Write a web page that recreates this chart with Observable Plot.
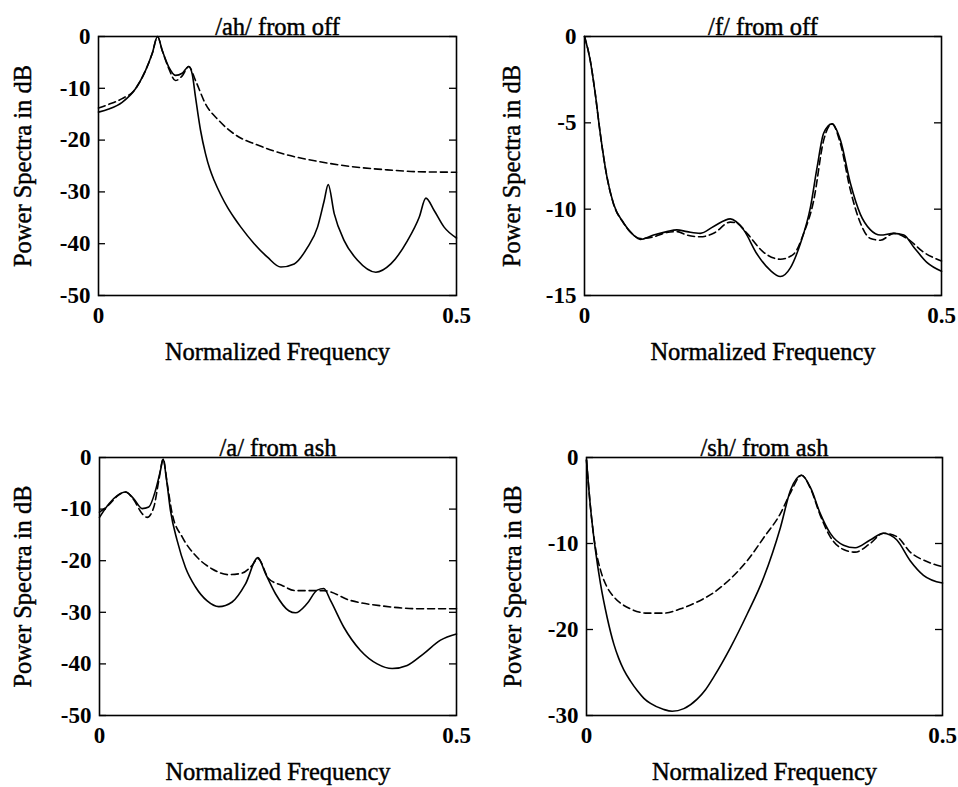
<!DOCTYPE html>
<html>
<head>
<meta charset="utf-8">
<script src="https://cdn.jsdelivr.net/npm/d3@7"></script>
<script src="https://cdn.jsdelivr.net/npm/@observablehq/plot@0.6"></script>
<style>
  html, body { margin: 0; padding: 0; background: #fff; }
  #chart { position: relative; width: 958px; height: 787px; overflow: hidden; background: #fff; }
  #chart > div { position: absolute; }
  #chart svg { overflow: visible; }
</style>
</head>
<body>
<div id="chart"></div>
<script>
// ---------- data (frequency, dB) ----------
const titles = ["/ah/ from off", "/f/ from off", "/a/ from ash", "/sh/ from ash"];
const xLabel = "Normalized Frequency";
const yLabel = "Power Spectra in dB";
const xTicks = [0, 0.5];
const yTicksAh = [0, -10, -20, -30, -40, -50];
const yTicksF = [0, -5, -10, -15];
const yTicksA = [0, -10, -20, -30, -40, -50];
const yTicksSh = [0, -10, -20, -30];

// /ah/ from off
const ahSolid = [
  [0, -14.6], [0.0144, -14.0], [0.033, -12.7], [0.0517, -10.1], [0.0656, -6.6], [0.075, -3.3],
  [0.0825, 0], [0.089, -2.7], [0.0982, -5.9], [0.1075, -7.5], [0.1169, -7.1], [0.1261, -5.8],
  [0.1308, -7.2], [0.1355, -11.7], [0.1425, -18.1], [0.1494, -22.6], [0.1555, -25.6], [0.1616, -27.8],
  [0.1709, -30.6], [0.1802, -33.0], [0.1895, -35.0], [0.1988, -36.8], [0.2174, -40.0], [0.236, -42.6],
  [0.2546, -44.5], [0.2733, -43.9], [0.2919, -40.7], [0.3059, -36.8], [0.3152, -31.7], [0.3208, -28.6],
  [0.3292, -34.2], [0.3431, -39.4], [0.3618, -43.2], [0.3873, -45.5], [0.4083, -43.9], [0.4316, -39.4],
  [0.4479, -34.9], [0.4572, -31.2], [0.4688, -33.6], [0.4827, -36.8], [0.5, -38.9]
];
const ahDashed = [
  [0, -13.8], [0.0144, -13.1], [0.033, -12.0], [0.0517, -10.1], [0.0656, -6.6], [0.075, -3.3],
  [0.0825, 0], [0.089, -2.7], [0.0982, -6.2], [0.1075, -8.5], [0.1169, -7.6], [0.1261, -5.8],
  [0.1355, -8.5], [0.1494, -13.0], [0.168, -16.2], [0.196, -19.4], [0.2174, -20.7],
  [0.2593, -22.7], [0.3059, -24.1], [0.3524, -25.1], [0.399, -25.7], [0.4455, -26.1], [0.5, -26.2]
];

// /f/ from off
const fSolid = [
  [0, 0], [0.0079, -1.35], [0.015, -3.3], [0.022, -5.6], [0.0313, -8.1], [0.0407, -9.7],
  [0.0547, -10.8], [0.0687, -11.5], [0.078, -11.75], [0.0967, -11.5], [0.1154, -11.3], [0.1294, -11.2],
  [0.1435, -11.3], [0.1621, -11.4], [0.1808, -11.0], [0.2042, -10.56], [0.2229, -11.2], [0.2416, -12.6],
  [0.2603, -13.55], [0.2743, -13.9], [0.2883, -13.4], [0.3023, -12.0], [0.3164, -9.9], [0.3257, -7.6],
  [0.335, -5.6], [0.3467, -5.06], [0.3584, -6.0], [0.3724, -8.5], [0.3864, -10.3], [0.4005, -11.2],
  [0.4145, -11.5], [0.4332, -11.4], [0.4472, -11.5], [0.4612, -12.2], [0.4799, -13.1], [0.5, -13.6]
];
const fDashed = [
  [0, 0], [0.0079, -1.35], [0.015, -3.3], [0.022, -5.6], [0.0313, -8.1], [0.0407, -9.7],
  [0.0547, -10.8], [0.0687, -11.5], [0.078, -11.7], [0.0967, -11.6], [0.1154, -11.35], [0.1294, -11.3],
  [0.1435, -11.5], [0.1621, -11.6], [0.1808, -11.4], [0.2042, -10.75], [0.2136, -10.8], [0.2276, -11.4],
  [0.2509, -12.5], [0.2743, -12.9], [0.293, -12.6], [0.307, -11.4], [0.321, -9.5], [0.335, -6.0],
  [0.3467, -5.06], [0.3584, -6.2], [0.3724, -8.9], [0.3864, -10.8], [0.4005, -11.7], [0.4145, -11.8],
  [0.4332, -11.4], [0.4519, -11.7], [0.4752, -12.5], [0.5, -13.0]
];

// /a/ from ash
const aSolid = [
  [0, -11.6], [0.013, -9.0], [0.0248, -7.4], [0.0364, -6.7], [0.048, -8.0], [0.0598, -9.9],
  [0.069, -9.6], [0.0784, -6.4], [0.0854, -2.5], [0.0892, -0.3], [0.0934, -3.8], [0.0994, -10.3],
  [0.1088, -16.1], [0.1204, -21.3], [0.1345, -25.1], [0.1508, -27.8], [0.1671, -28.9], [0.1858, -28.0],
  [0.2045, -24.5], [0.2218, -19.4], [0.2325, -22.5], [0.2465, -26.4], [0.2651, -29.7], [0.2745, -30.1],
  [0.2908, -28.3], [0.3049, -25.7], [0.3142, -25.4], [0.3235, -27.7], [0.3422, -32.9],
  [0.3655, -37.4], [0.3889, -40.0], [0.4099, -40.9], [0.4309, -40.3], [0.4542, -38.0], [0.4776, -35.4],
  [0.5, -34.2]
];
const aDashed = [
  [0, -10.6], [0.013, -9.2], [0.0248, -7.5], [0.0364, -6.7], [0.048, -8.2], [0.0598, -10.9],
  [0.0668, -11.6], [0.0761, -9.6], [0.0831, -4.4], [0.0892, -0.3], [0.0948, -5.0], [0.1018, -10.9],
  [0.1158, -15.4], [0.1345, -19.0], [0.1578, -21.6], [0.1811, -22.7], [0.1998, -22.4], [0.2138, -20.9],
  [0.2218, -19.6], [0.2371, -23.5], [0.2558, -24.8], [0.2745, -25.8], [0.3142, -25.8],
  [0.3515, -27.7], [0.3982, -28.8], [0.4449, -29.3], [0.5, -29.3]
];

// /sh/ from ash
const shSolid = [
  [0, -0.3], [0.0056, -5.8], [0.0126, -10.8], [0.0197, -14.7], [0.029, -18.6], [0.0384, -21.7],
  [0.045, -23.3], [0.0524, -24.7], [0.0618, -26.0], [0.0712, -27.1], [0.0806, -28.0], [0.0899, -28.6],
  [0.1086, -29.3], [0.1203, -29.5], [0.1367, -29.2], [0.1554, -28.1], [0.1671, -27.0], [0.1788, -25.5],
  [0.2022, -22.1], [0.2257, -18.2], [0.2491, -13.9], [0.2725, -8.1], [0.2865, -3.8], [0.302, -2.06],
  [0.3151, -3.6], [0.3282, -6.5], [0.3422, -8.8], [0.361, -10.2], [0.3773, -10.5], [0.3984, -9.6],
  [0.4171, -8.8], [0.4359, -9.6], [0.4546, -12.0], [0.4733, -13.7], [0.5, -14.6]
];
const shDashed = [
  [0, -0.3], [0.0056, -5.8], [0.0126, -10.5], [0.0197, -13.1], [0.029, -15.1], [0.0384, -16.2],
  [0.0618, -17.6], [0.0852, -18.1], [0.1086, -18.1], [0.132, -17.6], [0.1554, -16.8], [0.1788, -15.7],
  [0.2022, -14.1], [0.2257, -12.0], [0.2491, -9.3], [0.2725, -6.5], [0.2865, -4.1], [0.302, -2.06],
  [0.3151, -3.7], [0.3282, -6.7], [0.3422, -9.2], [0.361, -10.7], [0.3773, -11.0], [0.3984, -10.0],
  [0.4171, -8.8], [0.4359, -9.2], [0.4546, -11.0], [0.478, -12.1], [0.5, -12.7]
];

// ---------- drawing ----------
const FONT = "'Liberation Serif', 'Times New Roman', serif";

function panel({title, solid, dashed, yTicks, left, top, width, height, margin}) {
  const frameW = width - margin.left - margin.right;
  const yMin = Math.min(...yTicks), yMax = Math.max(...yTicks);
  const labelStyle = {fontSize: 24.5, stroke: "#000", strokeWidth: 0.45, fill: "#000"};
  const chart = Plot.plot({
    width, height,
    marginLeft: margin.left, marginRight: margin.right,
    marginTop: margin.top, marginBottom: margin.bottom,
    style: {fontFamily: FONT, background: "transparent", color: "#000", overflow: "visible"},
    x: {domain: [0, 0.5]},
    y: {domain: [yMin, yMax]},
    marks: [
      Plot.tickY(yTicks, {y: d => d, insetRight: frameW - 7, stroke: "#000", strokeWidth: 1.3}),
      Plot.tickY(yTicks, {y: d => d, insetLeft: frameW - 7, stroke: "#000", strokeWidth: 1.3}),
      Plot.line(dashed, {x: d => d[0], y: d => d[1], curve: "monotone-x", stroke: "#000",
        strokeWidth: 1.6, strokeDasharray: "7,4"}),
      Plot.line(solid, {x: d => d[0], y: d => d[1], curve: "monotone-x", stroke: "#000",
        strokeWidth: 1.6}),
      Plot.frame({stroke: "#000", strokeWidth: 1.6}),
      Plot.axisY(yTicks, {anchor: "left", tickSize: 0, tickPadding: 8, label: null,
        tickFormat: d => String(d), fontSize: 23, fontWeight: "bold"}),
      Plot.axisX(xTicks, {anchor: "bottom", tickSize: 0, tickPadding: 11, label: null,
        tickFormat: d => String(d), fontSize: 23, fontWeight: "bold"}),
      Plot.text([title], {frameAnchor: "top", lineAnchor: "middle", dy: -9, text: d => d, ...labelStyle}),
      Plot.text([xLabel], {frameAnchor: "bottom", lineAnchor: "middle", dy: 57, text: d => d, ...labelStyle}),
      Plot.text([yLabel], {frameAnchor: "left", textAnchor: "middle", lineAnchor: "middle",
        dx: margin.yLabelDx, rotate: -90, text: d => d, ...labelStyle})
    ]
  });
  const holder = document.createElement("div");
  holder.style.left = left + "px";
  holder.style.top = top + "px";
  holder.appendChild(chart);
  document.getElementById("chart").appendChild(holder);
}

panel({title: titles[0], solid: ahSolid, dashed: ahDashed, yTicks: yTicksAh,
  left: 0, top: 0, width: 479, height: 420,
  margin: {left: 98, right: 23, top: 36, bottom: 125, yLabelDx: -75}});
panel({title: titles[1], solid: fSolid, dashed: fDashed, yTicks: yTicksF,
  left: 479, top: 0, width: 479, height: 420,
  margin: {left: 105, right: 17, top: 36, bottom: 125, yLabelDx: -72}});
panel({title: titles[2], solid: aSolid, dashed: aDashed, yTicks: yTicksA,
  left: 0, top: 420, width: 479, height: 367,
  margin: {left: 99, right: 23, top: 37, bottom: 72, yLabelDx: -76}});
panel({title: titles[3], solid: shSolid, dashed: shDashed, yTicks: yTicksSh,
  left: 479, top: 420, width: 479, height: 367,
  margin: {left: 107, right: 16, top: 37, bottom: 72, yLabelDx: -73}});
</script>
</body>
</html>
